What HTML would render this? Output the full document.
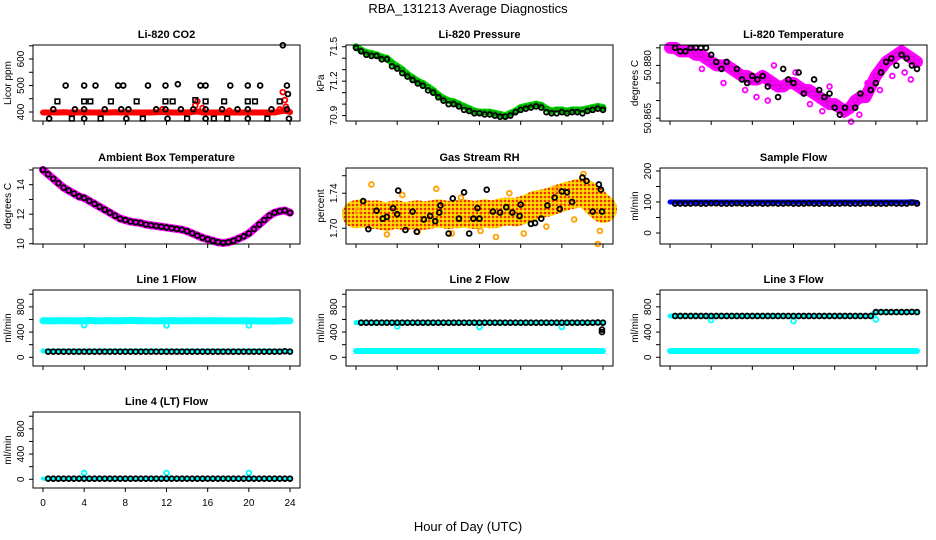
<!DOCTYPE html>
<html><head><meta charset="utf-8"><style>
html,body{margin:0;padding:0;background:#fff;}
svg{display:block;font-family:"Liberation Sans",sans-serif;}
</style></head><body>
<svg id="chart" width="936" height="540" viewBox="0 0 936 540" xmlns="http://www.w3.org/2000/svg">
<defs>
<pattern id="rhpat" width="4" height="4" patternUnits="userSpaceOnUse">
<rect width="4" height="4" fill="#ffc000"/>
<rect x="0" y="0" width="2" height="2" fill="#f03000"/>
<rect x="2" y="2" width="2" height="2" fill="#ffe000"/>
</pattern>
</defs>
<text x="468" y="13" text-anchor="middle" font-size="13">RBA_131213  Average Diagnostics</text>
<text x="468" y="531" text-anchor="middle" font-size="13">Hour of Day (UTC)</text>
</svg>
<script>
const hours = [0,0.5,1,1.5,2,2.5,3,3.5,4,4.5,5,5.5,6,6.5,7,7.5,8,8.5,9,9.5,10,10.5,11,11.5,12,12.5,13,13.5,14,14.5,15,15.5,16,16.5,17,17.5,18,18.5,19,19.5,20,20.5,21,21.5,22,22.5,23,23.5,24];
const xTicks = [0,4,8,12,16,20,24];

// CO2
const co2Red = [398,398,398,398,399,398,398,398,399,398,398,398,398,398,399,398,398,398,398,398,398,398,399,400,399,398,398,398,398,400,402,398,398,398,398,398,398,398,398,398,398,398,398,398,398,398,402,405,400];
const co2SpikeH = [11.6,14.8,15.0,15.5,18.1,23.0,23.3,23.5,23.6];
const co2SpikeV = [410,425,440,415,405,410,475,445,420];
const co2CircH = [2.2,4.0,5.1,7.3,7.8,10.2,11.9,13.1,15.3,15.8,18.2,19.9,21.1,23.7,1.0,3.1,4.0,6.0,7.6,8.3,11.0,11.9,13.4,14.6,15.8,17.4,18.9,19.9,22.2,23.7,0.6,4.0,8.1,12.1,15.8,19.9,23.9,23.3,23.8];
const co2CircV = [500,500,500,500,500,500,500,505,500,500,500,500,500,500,410,410,410,410,410,410,410,410,410,410,410,410,410,410,410,410,375,375,375,375,375,375,375,652,468];
const co2SqH = [1.4,4.0,4.6,6.6,9.1,11.9,12.6,14.8,15.8,17.6,19.9,20.6,23.0,2.8,5.6,9.7,14.0,16.6,17.9,21.8];
const co2SqV = [440,440,440,440,440,440,440,445,440,440,440,440,440,375,375,375,375,375,375,375];

// Pressure
const presGreen = [71.5,71.47,71.45,71.44,71.43,71.41,71.4,71.36,71.33,71.3,71.26,71.23,71.2,71.18,71.15,71.12,71.08,71.05,71.03,71.02,71.0,70.98,70.96,70.94,70.93,70.93,70.93,70.92,70.91,70.9,70.92,70.94,70.97,70.98,70.99,71.0,70.99,70.96,70.94,70.95,70.95,70.94,70.95,70.95,70.95,70.96,70.97,70.98,70.97];
const presBlack = [71.49,71.46,71.43,71.42,71.42,71.39,71.39,71.33,71.31,71.27,71.24,71.21,71.18,71.16,71.12,71.1,71.06,71.03,71.0,71.0,70.98,70.95,70.94,70.92,70.92,70.91,70.91,70.9,70.89,70.89,70.9,70.93,70.95,70.96,70.97,70.98,70.97,70.93,70.92,70.92,70.93,70.92,70.93,70.93,70.92,70.94,70.95,70.96,70.95];

// Li-820 temperature
const tempMag = [50.885,50.885,50.884,50.884,50.884,50.883,50.883,50.882,50.881,50.88,50.88,50.88,50.879,50.878,50.877,50.877,50.876,50.876,50.877,50.876,50.875,50.874,50.874,50.875,50.875,50.874,50.873,50.873,50.872,50.871,50.87,50.869,50.869,50.868,50.867,50.868,50.87,50.871,50.871,50.874,50.877,50.879,50.881,50.882,50.883,50.884,50.883,50.882,50.881];
const tempScatH = [3.1,5.2,7.3,8.4,9.5,10.1,12.2,13.6,14.8,15.5,16.9,17.6,18.4,19.2,20.4,21.6,22.8,23.4];
const tempScatV = [50.879,50.875,50.873,50.871,50.870,50.880,50.878,50.869,50.867,50.874,50.866,50.864,50.866,50.875,50.873,50.877,50.878,50.876];
const tempBlackH = [0.5,1.0,1.5,2.0,2.5,3.0,3.5,4.0,4.5,5.0,5.5,6.5,7.0,7.5,8.0,8.5,9.0,9.5,10.5,11.0,11.5,12.0,12.5,13.0,14.0,14.5,15.0,15.5,16.0,16.5,17.0,18.0,18.5,19.5,20.0,20.5,21.0,21.5,22.0,22.5,23.0,23.5,24.0];
const tempBlackV = [50.885,50.884,50.884,50.885,50.885,50.885,50.885,50.883,50.881,50.879,50.881,50.879,50.876,50.875,50.877,50.876,50.877,50.874,50.871,50.879,50.876,50.875,50.878,50.872,50.876,50.873,50.871,50.872,50.868,50.866,50.868,50.868,50.872,50.873,50.875,50.878,50.881,50.882,50.880,50.883,50.882,50.880,50.879];

// Ambient box temperature
const ambTemp = [15.0,14.7,14.4,14.1,13.8,13.6,13.4,13.2,13.1,12.9,12.7,12.5,12.3,12.1,11.9,11.7,11.6,11.5,11.45,11.4,11.3,11.25,11.2,11.15,11.1,11.05,11.0,10.95,10.85,10.7,10.55,10.4,10.3,10.2,10.1,10.05,10.1,10.2,10.35,10.5,10.7,11.0,11.3,11.6,11.9,12.1,12.2,12.25,12.1];

// Gas stream RH
const rhCenter = [1.716,1.717,1.716,1.715,1.716,1.714,1.713,1.715,1.716,1.714,1.714,1.715,1.716,1.714,1.715,1.716,1.717,1.716,1.715,1.716,1.716,1.717,1.716,1.715,1.716,1.717,1.716,1.716,1.718,1.719,1.719,1.718,1.720,1.722,1.724,1.727,1.728,1.729,1.731,1.733,1.735,1.737,1.738,1.740,1.741,1.738,1.733,1.727,1.722];
const rhScatH = [1.5,3.0,4.5,6.0,7.8,9.3,10.2,12.1,13.6,14.9,16.3,18.5,19.5,21.2,22.1,23.5,23.7,0.2];
const rhScatV = [1.750,1.693,1.738,1.696,1.745,1.694,1.735,1.697,1.690,1.740,1.694,1.702,1.745,1.710,1.762,1.682,1.697,1.720];
const rhBlackH = [0.7,1.2,2.0,2.6,3.0,3.6,4.0,4.1,4.8,5.5,5.9,6.6,7.2,7.7,8.1,8.2,9.0,9.4,10.0,10.5,11.0,11.4,11.8,12.0,12.7,13.3,14.0,14.6,15.2,15.9,16.0,17.0,17.4,18.0,18.6,19.3,19.8,20.0,20.5,21.0,22.0,22.4,23.0,23.6,23.8,23.9];
const rhBlackV = [1.731,1.699,1.720,1.711,1.713,1.723,1.716,1.743,1.698,1.719,1.696,1.710,1.714,1.708,1.718,1.726,1.694,1.734,1.711,1.741,1.694,1.711,1.723,1.711,1.744,1.719,1.718,1.724,1.718,1.714,1.727,1.705,1.706,1.711,1.726,1.735,1.722,1.742,1.741,1.730,1.758,1.754,1.719,1.750,1.744,1.719];

// Sample flow
const sampBlue = [100,100,100,100,100,100,100,100,100,100,100,100,100,100,100,100,100,100,100,100,100,100,100,100,100,100,100,100,100,100,100,100,100,100,100,100,100,100,100,100,100,100,100,100,100,100,100,101,99];
const sampBlack = [97,95,95,95,95,96,95,95,96,96,95,95,95,96,95,95,95,96,95,95,96,95,95,96,95,95,95,96,95,95,96,95,95,95,96,95,95,95,96,96,95,95,95,96,95,95,95,98,95];

// Line flows
const l1Cyan = [580,580,578,580,582,580,578,580,578,585,580,578,580,582,580,580,582,585,582,580,580,580,578,580,580,582,580,578,580,582,580,580,578,582,580,578,580,580,578,580,580,578,576,575,575,574,580,582,578];
const l1Low = [100,100,100,100,100,100,100,100,100,100,100,100,100,100,100,100,100,100,100,100,100,100,100,100,100,100,100,100,100,100,100,100,100,100,100,100,100,100,100,100,100,100,100,100,100,100,100,100,100];
const l1Black = [90,90,90,90,90,90,90,90,90,90,90,90,90,90,90,90,90,90,90,90,90,90,90,90,90,90,90,90,90,90,90,90,90,90,90,90,90,90,90,90,90,90,90,90,90,90,90,95,90];
const l2Main = [549,549,549,549,549,549,549,549,549,549,549,549,549,549,549,549,549,549,549,549,549,549,549,549,549,549,549,549,549,549,549,549,549,549,549,549,549,549,549,549,549,549,549,549,549,549,549,552,549];
const l2Low = [100,100,100,100,100,100,100,100,100,100,100,100,100,100,100,100,100,100,100,100,100,100,100,100,100,100,100,100,100,100,100,100,100,100,100,100,100,100,100,100,100,100,100,100,100,100,100,100,100];
const l3Main = [655,655,655,655,655,655,655,655,655,655,655,655,655,655,655,655,655,655,655,655,655,655,655,655,655,655,655,655,655,655,655,655,655,655,655,655,655,655,655,655,717,717,717,717,717,717,717,720,717];
const l3Low = [100,100,100,100,100,100,100,100,100,100,100,100,100,100,100,100,100,100,100,100,100,100,100,100,100,100,100,100,100,100,100,100,100,100,100,100,100,100,100,100,100,100,100,100,100,100,100,100,100];
const l4Main = [10,10,10,10,10,10,10,10,10,10,10,10,10,10,10,10,10,10,10,10,10,10,10,10,10,10,10,10,10,10,10,10,10,10,10,10,10,10,10,10,10,10,10,10,10,10,10,10,10];
const cyanOutH = [4,12,20];
const l1OutV = [510,505,505];
const l2OutV = [490,480,480];
const l3OutV = [590,575,600];
const l4OutV = [100,100,100];

const NS = "http://www.w3.org/2000/svg";
const svg = document.getElementById('chart');
function mk(tag, attrs, parent){ const e=document.createElementNS(NS,tag); for(const k in attrs) e.setAttribute(k,attrs[k]); (parent||svg).appendChild(e); return e; }

const colLeft=[33,346,660], rowTop=[45,168,290,412], W=267, H=76;

function panel(col,row,name,title,ylab,yBot,yTop,ticks,labels){
  const L=colLeft[col], T=rowTop[row], B=T+H, R=L+W;
  const g=mk('g',{});
  
  
  const x=h=>L+10+h*(247/24);
  const y=v=>B-(v-yBot)/(yTop-yBot)*H;
  const t=mk('text',{x:(L+R)/2,y:T-7,'text-anchor':'middle','font-size':11,'font-weight':'bold'},g);
  t.textContent=title;
  
  
  const yl=mk('text',{transform:`translate(${L-22},${(T+B)/2}) rotate(-90)`,'text-anchor':'middle','font-size':10},g);
  yl.textContent=ylab;
  
  
  ticks.forEach(v=>{ const yy=y(v); mk('line',{x1:L-4,x2:L,y1:yy,y2:yy,stroke:'#000'},g); });
  labels.forEach(lb=>{ const tl=mk('text',{transform:`translate(${L-9},${y(lb[0])}) rotate(-90)`,'text-anchor':'middle','font-size':10},g);
    tl.textContent=lb[1];
    
     });
  xTicks.forEach(h=>{ const xx=x(h); mk('line',{x1:xx,x2:xx,y1:B,y2:B+4,stroke:'#000'},g);
    const tl=mk('text',{x:xx,y:B+18,'text-anchor':'middle','font-size':10},g);
    tl.textContent=h;
    
     });
  if(row<3){ mk('rect',{x:L-5,y:B+11,width:W+10,height:12,fill:'#fff'},g); }
  const cg=mk('g',{},g);
  const box=mk('rect',{x:L,y:T,width:W,height:H,fill:'none',stroke:'#000','stroke-width':1},g);
  
  
  return {x,y,g:cg};
}
function band(p,hs,vs,color,w,name){
  const pts=hs.map((h,i)=>p.x(h)+','+p.y(vs[i])).join(' ');
  const pl=mk('polyline',{points:pts,fill:'none',stroke:color,'stroke-width':w,'stroke-linejoin':'round','stroke-linecap':'round'},p.g);
  
  
}
function circles(p,hs,vs,color,name,r){
  hs.forEach((h,i)=>{ const c=mk('circle',{cx:p.x(h),cy:p.y(vs[i]),r:r||2.4,fill:'none',stroke:color,'stroke-width':1.8},p.g);
    
     });
}
function squares(p,hs,vs,color,name){
  hs.forEach((h,i)=>{ const c=mk('rect',{x:p.x(h)-2.3,y:p.y(vs[i])-2.3,width:4.6,height:4.6,fill:'none',stroke:color,'stroke-width':1.6},p.g);
    
     });
}
const sub=(a)=>a.filter((v,i)=>i>0);

// Panel 1 CO2
let p=panel(0,0,'co2','Li-820 CO2','Licor ppm',366,653,[400,450,500,550,600,650],[[400,'400'],[500,'500'],[600,'600']]);
band(p,hours,co2Red,'#f00',6,'co2-red-series');
circles(p,co2SpikeH,co2SpikeV,'#f00','co2-red-point');
circles(p,co2CircH,co2CircV,'#000','co2-black-point');
squares(p,co2SqH,co2SqV,'#000','co2-black-square');

// Panel 2 Pressure
p=panel(1,0,'pressure','Li-820 Pressure','kPa',70.853,71.515,[70.9,71.0,71.1,71.2,71.3,71.4,71.5],[[70.9,'70.9'],[71.2,'71.2'],[71.5,'71.5']]);
band(p,hours,presGreen,'#0d0',7,'pressure-green-series');
circles(p,hours,presGreen,'#00a000','pressure-green-point',2);
circles(p,hours,presBlack,'#000','pressure-black-point');

// Panel 3 Temperature
p=panel(2,0,'li820-temp','Li-820 Temperature','degrees C',50.8642,50.8858,[50.865,50.87,50.875,50.88,50.885],[[50.865,'50.865'],[50.88,'50.880']]);
band(p,hours,tempMag,'#f0f',12,'temp-magenta-series');
circles(p,hours,tempMag,'#e000e0','temp-magenta-point',2.4);
circles(p,tempScatH,tempScatV,'#f0f','temp-magenta-scatter');
circles(p,tempBlackH,tempBlackV,'#000','temp-black-point');

// Panel 4 Ambient
p=panel(0,1,'ambient','Ambient Box Temperature','degrees C',9.98,15.13,[10,11,12,13,14,15],[[10,'10'],[12,'12'],[14,'14']]);
band(p,hours,ambTemp,'#f0f',8,'ambient-magenta-series');
circles(p,hours,ambTemp,'#000','ambient-black-point');

// Panel 5 RH
p=panel(1,1,'rh','Gas Stream RH','percent',1.682,1.7688,[1.70,1.72,1.74,1.76],[[1.70,'1.70'],[1.74,'1.74']]);
band(p,hours,rhCenter,'url(#rhpat)',28,'rh-orange-series');
circles(p,rhScatH,rhScatV,'#ffa000','rh-orange-scatter');
circles(p,rhBlackH,rhBlackV,'#000','rh-black-point');

// Panel 6 Sample flow
p=panel(2,1,'sample-flow','Sample Flow','ml/min',-35.5,209.7,[0,50,100,150,200],[[0,'0'],[100,'100'],[200,'200']]);
band(p,hours,sampBlue,'#00f',5,'sample-blue-series');
circles(p,sub(hours),sub(sampBlack),'#000','sample-black-point');

// Panel 7 Line 1
const flowTicks=[0,200,400,600,800,1000], flowLabels=[[0,'0'],[400,'400'],[800,'800']];
p=panel(0,2,'line1','Line 1 Flow','ml/min',-138,1067,flowTicks,flowLabels);
band(p,hours,l1Cyan,'#0ff',7,'line1-cyan-series');
band(p,hours,l1Low,'#0ff',5,'line1-cyan-low-series');
circles(p,cyanOutH,l1OutV,'#0ff','line1-cyan-outlier');
circles(p,sub(hours),sub(l1Black),'#000','line1-black-point');

// Panel 8 Line 2
p=panel(1,2,'line2','Line 2 Flow','ml/min',-138,1067,flowTicks,flowLabels);
band(p,hours,l2Main,'#0ff',5,'line2-cyan-series');
band(p,hours,l2Low,'#0ff',6,'line2-cyan-low-series');
circles(p,cyanOutH,l2OutV,'#0ff','line2-cyan-outlier');
circles(p,sub(hours),sub(l2Main),'#000','line2-black-point');
circles(p,[23.9,23.9],[400,440],'#000','line2-black-drop');

// Panel 9 Line 3
p=panel(2,2,'line3','Line 3 Flow','ml/min',-138,1067,flowTicks,flowLabels);
band(p,hours,l3Main,'#0ff',5,'line3-cyan-series');
band(p,hours,l3Low,'#0ff',6,'line3-cyan-low-series');
circles(p,cyanOutH,l3OutV,'#0ff','line3-cyan-outlier');
circles(p,sub(hours),sub(l3Main),'#000','line3-black-point');

// Panel 10 Line 4
p=panel(0,3,'line4','Line 4 (LT) Flow','ml/min',-138,1067,flowTicks,flowLabels);
band(p,hours,l4Main,'#0ff',4,'line4-cyan-series');
circles(p,cyanOutH,l4OutV,'#0ff','line4-cyan-outlier');
circles(p,sub(hours),sub(l4Main),'#000','line4-black-point');
</script>
</body></html>
